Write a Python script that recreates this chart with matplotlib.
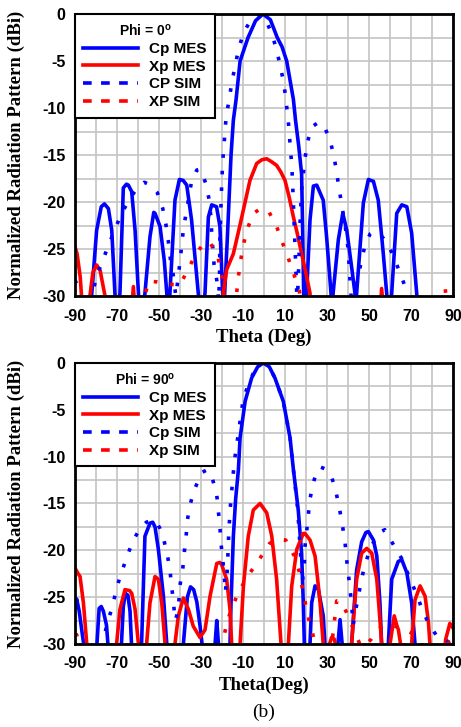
import numpy as np
import matplotlib
matplotlib.use("Agg")
import matplotlib.pyplot as plt
from matplotlib.lines import Line2D

plt.rcParams['axes.unicode_minus'] = False
plt.rcParams['mathtext.fontset'] = 'custom'
plt.rcParams['mathtext.rm'] = 'Liberation Sans:bold'

# ---------------- Phi = 0 ----------------
t0_cp_mes = [-90, -83, -82, -79.7, -77.5, -76, -74.1, -72.5, -71, -70,
             -68.6, -67, -65.5, -64.6, -63, -61.4, -59.8, -58.5,
             -56.7, -54.3, -52.5, -51.9, -49.5, -47.5, -46.3, -45.5,
             -44.8, -42.4, -40.3, -38.5, -36.8, -34.5, -31.3, -30,
             -28.1, -26.5, -24.9, -22.6, -21, -19.7, -19.2,
             -18.8, -17.5, -15.7, -14.6, -13.3, -11.4, -7.6, -4, -0.5, 3, 6.3, 8.6, 10.8, 14, 15, 16.5, 17.9, 18.4, 18.9, 19.5,
             20.3, 21.9, 23.5, 25.1, 28.2, 29.8, 31.9, 32.4,
             32.9, 35.4, 37.5, 39.4, 41.7, 43.3, 43.7,
             44.1, 47.3, 49.7, 52.1, 54.4, 56.8, 58.4, 59.5,
             60.8, 63.2, 65.6, 68, 70.3, 72.7, 73.5, 90]
d0_cp_mes = [-33, -33, -29.7, -23, -20.5, -20.2, -20.7, -23, -29.7, -33,
             -29.7, -18.5, -18.1, -18.2, -18.9, -23, -29.7, -33,
             -29.7, -23.7, -21.1, -21.2, -22.6, -26.2, -29.7, -33,
             -29.7, -19.8, -17.6, -17.7, -18.2, -21.9, -29.7, -33,
             -29.7, -21.6, -20.3, -20.5, -22.6, -29.7, -33,
             -30, -24, -15, -11.3, -9.1, -5, -2.5, -0.7, 0, -0.6, -2.5, -3.5, -5, -9.1, -11.3, -14, -17, -23, -30, -33,
             -29.7, -21.9, -18.3, -18.2, -19.8, -23.7, -29.7, -33,
             -29.7, -24, -21.2, -23, -26.9, -29.7, -33,
             -29.7, -20.1, -17.6, -17.8, -19.8, -25.5, -29.7, -33,
             -29.7, -21.2, -20.3, -20.5, -23.3, -29.7, -33, -33]

t0_xp_mes = [-90, -89, -87.5, -86, -84, -82.9, -81.5, -79.7, -78, -77, -75.7, -75,
             -63.5, -62.2, -61, -20.5, -19.4, -17.8, -14.6, -12, -9.9, -6.7, -3.5, -1, 1.3, 3.5, 6, 8, 10,
             12, 14, 16, 17.9, 20, 21.9, 22.5, 55, 56, 57.5, 90]
d0_xp_mes = [-24.8, -25.5, -28, -33, -33, -30, -27.5, -26.7, -27.3, -28.5, -30, -33,
             -33, -29, -33, -33, -29.7, -27.2, -25.5, -23, -20.9, -17.7, -15.9, -15.5, -15.4, -15.7, -16.1, -16.8, -17.7,
             -19.5, -21.6, -23.5, -25.5, -27.6, -29.7, -33, -33, -29.2, -33, -33]

t0_cp_sim = [-90, -89, -86.5, -82, -79.7, -77, -74, -71, -67.8, -63.8, -60, -57, -54, -50.8, -48.2, -46.7,
             -45.6, -44.5, -43.2, -42, -40.8, -39.5, -38.4, -37.1, -34.5, -32, -30.2, -27.6, -26, -25.3, -24.9,
             -24.4, -23.8, -22.5, -21.6, -21.2, -21, -20.6, -20.2, -19.7, -19, -18.6, -17.8, -16.5, -15.3, -13.8,
             -12.2, -9.9, -7.5, -5.1, -2.5, 0, 3.7, 6, 7.6, 9.2, 10.3, 11.1, 11.9, 12.4, 13.2, 13.8, 14.3, 14.8,
             15.3, 15.8, 16.5, 17, 17.5, 17.9, 18.7, 19.5, 20.6, 22.7, 25.5, 28.2, 31.4, 33.3, 34.6, 35.7, 37,
             38.2, 39.4, 40.2, 40.6, 41, 41.8, 44, 46.2, 48.1, 50.5, 52.5, 55.5, 58.9, 62.4, 65.2, 68, 69, 90]
d0_cp_sim = [-28.3, -28.8, -31, -30, -27.9, -26.3, -24.6, -22.9, -21.2, -19.6, -18.4, -17.9, -18.2, -19, -20.7, -22.4,
             -24.1, -26.2, -27.8, -30, -27.9, -25.3, -22.9, -21.2, -17.8, -16.6, -16.5, -18.1, -19.9, -21.6, -23.3,
             -24.9, -26.6, -28.3, -30.5, -28, -24, -21, -18.5, -15.7, -14, -12.3, -10.6, -9, -7.2, -5.6,
             -3.8, -2.1, -1.1, -0.4, -0.2, -0.2, -2.1, -3.8, -5.4, -7.1, -8.8, -10.5, -12.2, -13.9, -16, -19, -22, -25,
             -28, -31, -27, -23, -20.5, -18.7, -17, -15.4, -13.7, -12, -11.6, -11.7, -13.4, -15.1, -16.9, -18.5, -20.3,
             -21.9, -23.7, -25.4, -27, -28.6, -31, -29, -26.4, -24.6, -23.4, -23.1, -23.5, -24.4, -26.2, -27.8, -29.5, -31, -31]

t0_xp_sim = [-90, -58, -56.5, -55, -51, -47.5, -42, -40, -36, -32.4, -29, -26, -22, -20, -18.5, -16,
             -13.5, -13, -12.2, -11.1, -9.9, -8, -5.1, -1.5, 2, 6, 8.9, 11.6, 14.4, 16.8, 17.5, 20,
             79, 81.4, 85, 89.4, 90]
d0_xp_sim = [-33, -33, -29.8, -28.4, -28.5, -28.7, -28.8, -28.8, -27.1, -25.5, -24.5, -24.2, -25.8, -28, -31, -33,
             -31, -29.6, -27.9, -26.2, -24.6, -22.9, -21.2, -20.7, -20.9, -22.6, -24.4, -26, -27.8, -29.4, -31, -33,
             -33, -29.7, -29.5, -29.4, -29.3]

# ---------------- Phi = 90 ----------------
t90_cp_mes = [-90, -89.2, -88, -86.5, -85.2, -84, -81, -79.7, -78.5, -77.5, -76.5, -75, -74, -72,
              -69, -68, -67, -66, -64.8, -63.8, -63, -61, -58.3, -56.7, -54.3, -53, -51.9, -50.3, -47.9, -46.3, -45,
              -40, -38.4, -36.5, -35, -33.5, -32, -30.5, -29, -27, -24, -23.3, -22.5, -21.7, -21,
              -17, -16.2, -15.7, -14.6, -13.5, -12.2, -11.4, -9, -5.9, -3, -0.3, 2.5, 5.2, 9.2, 12.4, 14, 16.3,
              17.9, 18.7, 19.2, 20, 21, 21.9, 22.7, 24.3, 25.9, 28.2, 29, 30, 34.5, 35.2, 36.2, 37.2, 38,
              41, 41.7, 44.1, 46.5, 48.5, 49.7, 52.1, 53.7, 55.2, 56, 57, 58.5, 59.2, 60.8, 63.9, 65.6, 68,
              70.3, 71.9, 73, 90]
d90_cp_mes = [-26, -25.2, -26.5, -29, -31, -33, -33, -30.5, -26.2, -26, -26.5, -28, -31, -33,
              -33, -30.5, -26, -24.6, -24.8, -26.5, -30.5, -33, -30, -18.5, -17.1, -17, -17.5, -19.9, -24.9, -30, -33,
              -33, -30, -25, -23.9, -24.2, -25.5, -28, -31, -33, -33, -30, -27.5, -30, -33,
              -33, -30, -25.6, -18.5, -14.5, -11.4, -8, -4.1, -1.6, -0.4, 0, -0.4, -1.6, -4.1, -8, -11.4, -15.7,
              -20.3, -25.6, -30, -33, -33, -30, -25.6, -23.8, -24.2, -27, -30, -33, -33, -30, -27.4, -30, -33,
              -33, -30, -22.1, -19.1, -18.1, -18, -18.9, -20.6, -25.6, -30, -33, -33, -30, -23.1, -21.2, -21, -22.4,
              -25.6, -30, -33, -33]

t90_xp_mes = [-90, -88.5, -87.6, -86, -84.4, -83, -71, -70.2, -68.6, -66.2, -64, -63, -61.4, -59.8, -59,
              -57, -55.9, -54.3, -51.9, -50.3, -48.7, -47.1, -46, -43.5, -42.4, -40.8, -38.4, -36, -33.7, -30.5,
              -28.1, -25.7, -22.5, -21, -20.2, -17.8, -16.2, -15.4, -14.5, -12.5, -11.4, -9.8, -7.5, -5.1, -1.9,
              1.3, 3.7, 6, 8.1, 9, 10.8, 11.6, 13.2, 15.6, 18.7, 19.5, 21.9, 24.3, 25.5, 26.7, 28.2, 29.5,
              30.5, 31.2, 32.2, 33.5, 34.5, 36, 41, 41.7, 44.1, 46.5, 48.9, 51.3, 53.7, 55.2, 56, 57,
              59.3, 60, 62, 63.2, 64, 65, 66, 69.5, 70.3, 71.9, 74.3, 76.7, 78.3, 79, 80, 85, 86.5, 88.5, 90]
d90_xp_mes = [-21.9, -22.5, -22.8, -25.6, -30, -33, -33, -30, -26.3, -24.2, -24.3, -24.6, -26.3, -30, -33,
              -33, -30, -25.6, -22.8, -23.1, -25.6, -30, -33, -33, -30, -27, -25.1, -26.3, -28.1, -29.3,
              -28.5, -24.9, -21.4, -21.3, -21.5, -23.1, -26.3, -30, -33, -33, -30, -23.8, -18.5, -15.7, -15,
              -16, -18.5, -23.1, -30, -33, -33, -30, -23.8, -19.9, -18.2, -18.2, -18.9, -20.6, -23, -25.6, -30, -33,
              -33, -30, -29.3, -29.5, -30.5, -33, -33, -30, -23.1, -20.3, -19.8, -20.3, -23.1, -27.4, -30, -33,
              -33, -30, -27, -28, -28.5, -30, -33, -33, -30, -25.3, -23.8, -24.9, -27.7, -30, -33, -33, -29.5, -27.8, -28.3]

t90_cp_sim = [-90, -78, -76.5, -74.6, -72.5, -70.6, -68.6, -65.7, -63, -59, -56, -53, -51.4, -49.5, -47.9,
              -46.1, -44.8, -44, -43.2, -42.3, -41.6, -40.5, -40, -38.7, -37.9, -37.1, -36.5, -35.2, -32.9, -29.7,
              -27, -24.5, -22.5, -21.7, -21, -20.5, -19.7, -18.9, -18.4, -17.6, -17.3, -17, -16.7, -16.2, -15.7,
              -14.9, -14.3, -13.3, -12.2, -11.1, -9.9, -7.5, -4.3, -2, 0, 2.5, 5.2, 9.2, 12.4, 14, 16, 17.3, 18.2,
              19.2, 19.5, 20.3, 21.1, 21.9, 23.5, 25, 26.8, 29, 32, 34.3, 35.9, 37.2, 38.5, 39.1, 40.1, 40.9,
              41.7, 42.5, 43.3, 44.9, 46.2, 48.1, 50.5, 54.1, 57.5, 61.1, 65.6, 68.7, 71.9, 74.8, 78.3, 83, 86, 88, 90]
d90_cp_sim = [-33, -33, -29.5, -27.8, -26.2, -24.5, -22.8, -21, -19.3, -17.6, -17, -16.8, -16.9, -17.7, -18.7,
              -20.4, -22.1, -23.8, -25.4, -27.5, -27, -25.3, -23.7, -22, -20.1, -18.5, -16.8, -15.1, -13.4, -11.7,
              -11.4, -12.4, -14.1, -15.9, -17.5, -19.2, -20.9, -22.7, -24.5, -22.5, -21.1, -19.4, -17.7, -16, -14.3,
              -12.6, -10.8, -9.2, -7.5, -5.7, -3.9, -2.3, -0.7, -0.1, 0, -0.4, -1.6, -4.1, -8, -11.4, -15.5, -20, -23.5,
              -21.4, -19.6, -18, -16.2, -14.5, -12.8, -11.6, -11.1, -11.3, -12, -13.8, -15.5, -17.2, -18.9, -20.6, -22.4, -24,
              -25.8, -28, -26.7, -25, -23.3, -21.5, -19.9, -18.2, -17.8, -19.2, -20.9, -22.6, -24.3, -26, -27.8, -29.4, -29.5, -29.8, -30.2]

t90_xp_sim = [-90, -89.2, -88, -86, -21, -19.4, -17.8, -15.4, -12.2, -7.9, -2.6, 2.5, 6, 10.3, 14.4, 16.8,
              18.2, 19.8, 21.5, 23.5, 25, 26, 30, 31.5, 32.7, 34.6, 37, 40.2, 43.3, 46, 48, 51, 54, 57.6,
              62, 66, 70, 73.5, 76, 80, 85, 88.6, 90]
d90_xp_sim = [-29, -29, -30.5, -33, -33, -29.6, -27.8, -26.2, -24.5, -22.8, -21.1, -19.3, -18.8, -18.9, -20.6, -22.3,
              -24, -25.8, -27.5, -29.2, -31, -33, -33, -31, -29.2, -25.4, -25.5, -27.1, -28.8, -30.2, -30.2, -29.5, -28.5, -27.9,
              -28.1, -28.3, -28.8, -29.5, -30.5, -31, -30.5, -29.7, -29.5]

x_ticks = [-90, -70, -50, -30, -10, 10, 30, 50, 70, 90]
y_ticks = [0, -5, -10, -15, -20, -25, -30]

BLUE = '#0000ff'
RED = '#ff0000'
SANS = 'Liberation Sans'
SERIF = 'Liberation Serif'
LW = 2.6
dot = (0, (1, 3.6))

fig = plt.figure(figsize=(4.61, 7.27), dpi=100)
ax1 = fig.add_axes([0.1627, 0.5928, 0.8200, 0.3879])
ax2 = fig.add_axes([0.1627, 0.1142, 0.8200, 0.3865])


def panel(ax, curves, labels, title):
    (tc, dc), (tx, dx), (tcs, dcs), (txs, dxs) = curves
    ax.plot(tc, dc, color=BLUE, lw=LW, solid_joinstyle='round')
    ax.plot(tx, dx, color=RED, lw=LW, solid_joinstyle='round')
    ax.plot(tcs, dcs, color=BLUE, lw=LW, linestyle=dot)
    ax.plot(txs, dxs, color=RED, lw=LW, linestyle=dot)
    ax.set_xlim(-90, 90)
    ax.set_ylim(-30, 0)
    ax.set_xticks(x_ticks)
    ax.set_xticks(np.arange(-90, 91, 10), minor=True)
    ax.set_yticks(y_ticks)
    ax.set_yticks(np.arange(-30, 0.1, 2.5), minor=True)
    ax.grid(True, which='both', color='#c4c4c4', lw=1.2)
    ax.set_axisbelow(True)
    ax.tick_params(which='both', length=0)
    ax.tick_params(axis='x', pad=9)
    ax.tick_params(axis='y', pad=7)
    for lab in ax.get_xticklabels() + ax.get_yticklabels():
        lab.set_fontfamily(SANS)
        lab.set_fontweight('bold')
        lab.set_fontsize(11.5)
    for s in ax.spines.values():
        s.set_linewidth(2)
    handles = [Line2D([], [], color=BLUE, lw=LW),
               Line2D([], [], color=RED, lw=LW),
               Line2D([], [], color=BLUE, lw=LW, linestyle=(0, (2.4, 2.6))),
               Line2D([], [], color=RED, lw=LW, linestyle=(0, (2.4, 2.6)))]
    leg = ax.legend(handles, labels, loc='upper left', bbox_to_anchor=(0, 1),
                    borderaxespad=0, fancybox=False, framealpha=1,
                    edgecolor='black', handlelength=3.6, handletextpad=0.7,
                    labelspacing=0.24, borderpad=0.55,
                    prop={'family': SANS, 'weight': 'bold', 'size': 11},
                    title=title,
                    title_fontproperties={'family': SANS, 'weight': 'bold', 'size': 10})
    leg.get_frame().set_linewidth(1.5)


panel(ax1, [(t0_cp_mes, d0_cp_mes), (t0_xp_mes, d0_xp_mes),
            (t0_cp_sim, d0_cp_sim), (t0_xp_sim, d0_xp_sim)],
      ['Cp MES', 'Xp MES', 'CP SIM', 'XP SIM'], r'Phi = 0$^\mathrm{o}$')
panel(ax2, [(t90_cp_mes, d90_cp_mes), (t90_xp_mes, d90_xp_mes),
            (t90_cp_sim, d90_cp_sim), (t90_xp_sim, d90_xp_sim)],
      ['Cp MES', 'Xp MES', 'Cp SIM', 'Xp SIM'], r'Phi = 90$^\mathrm{o}$')

lab_kw = dict(family=SERIF, weight='bold', size=13.5, ha='center', va='center')
fig.text(0.035, 0.787, 'Normalized Radiation Pattern (dBi)', rotation=90, **lab_kw)
fig.text(0.035, 0.307, 'Normalized Radiation Pattern (dBi)', rotation=90, **lab_kw)
fig.text(0.5727, 0.5365, 'Theta (Deg)', **lab_kw)
fig.text(0.5727, 0.0578, 'Theta(Deg)', **lab_kw)
fig.text(0.5727, 0.0206, '(b)', family=SERIF, size=14, ha='center', va='center')

fig.savefig('out.png', dpi=100)
